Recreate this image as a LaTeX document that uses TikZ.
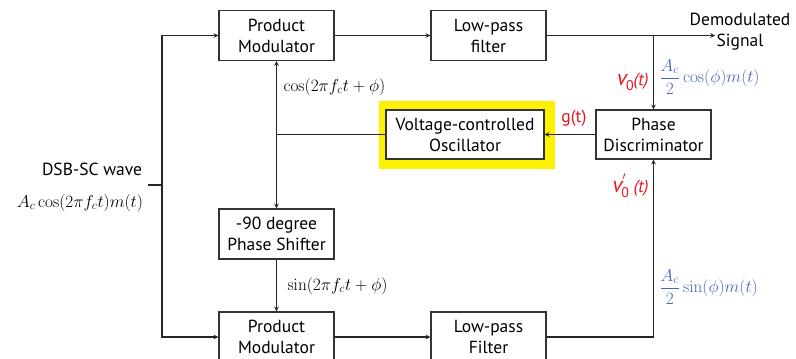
\documentclass[tikz,border=0pt]{standalone}
\usepackage{amsmath}
\usepackage[no-math]{fontspec}
\setmainfont{PT Sans}
\usetikzlibrary{arrows}
\definecolor{vcoyellow}{HTML}{FFF200}
\definecolor{sigred}{HTML}{E8141E}
\definecolor{sigblue}{HTML}{4A64BE}
\newcommand{\bigv}{{\fontsize{22}{22}\selectfont\itshape v}}
\newcommand{\zerosub}{\raisebox{-0.6ex}{\fontsize{14}{14}\selectfont 0}}
\tikzstyle{block} = [draw=black!80, line width=1.3pt, minimum width=115pt, minimum height=50pt, align=center]
\tikzstyle{wire} = [line width=1.1pt, black!85]
\tikzstyle{arrow} = [line width=1.1pt, black!85, ->, >=stealth]

\begin{document}
\begin{tikzpicture}[x=1pt,y=-1pt,every node/.style={font=\fontsize{17.5}{21}\selectfont}]
    \clip (0,0) rectangle (796,359);
    \fill[vcoyellow] (379,101) rectangle (555,169);
    % blocks
    \node[block] (pm1) at (276.5,35.5) {Product\\Modulator};
    \node[block] (lpf1) at (488.5,35.5) {Low-pass\\filter};
    \node[block, minimum width=158pt, minimum height=49pt, fill=white] (vco) at (465,134.5)
        {Voltage-controlled\\Oscillator};
    \node[block, minimum height=49pt] (pd) at (653.5,134.5) {Phase\\Discriminator};
    \node[block] (ps) at (276.5,234) {-90 degree\\Phase Shifter};
    \node[block] (pm2) at (276.5,337) {Product\\Modulator};
    \node[block] (lpf2) at (488.5,337) {Low-pass\\Filter};
    % input split
    \coordinate (in) at (148,185);
    \coordinate (split) at (162,185);
    \draw[wire] (in) -- (split);
    \draw[arrow] (split) |- (pm1.west);
    \draw[arrow] (split) |- (pm2.west);
    \draw[arrow] (pm1) -- (lpf1);
    \draw[arrow] (pm2) -- (lpf2);
    % output and phase loop
    \coordinate (tap) at (pd.north |- lpf1.east);
    \coordinate (out) at (715,35.5);
    \draw[arrow] (lpf1) -- (out);
    \draw[arrow] (tap) -- (pd.north);
    \draw[arrow] (lpf2.east) -| (pd.south);
    \draw[arrow] (pd) -- (vco);
    \coordinate (loop) at (pm1.south |- vco.west);
    \draw[wire] (vco.west) -- (loop);
    \draw[arrow] (loop) -- (pm1.south);
    \draw[arrow] (loop) -- (ps.north);
    \draw[arrow] (ps) -- (pm2);
    % labels
    \node (dsb) at (92,169) {DSB-SC wave};
    \node (dsbeq) at (80,203) {$A_c\cos(2\pi f_c t)m(t)$};
    \node[anchor=west] (coslbl) at (280,87) {$\cos(2\pi f_c t+\phi)$};
    \node[anchor=west] (sinlbl) at (284,286) {$\sin(2\pi f_c t+\phi)$};
    \node[sigred] (glbl) at (574,118) {g(t)};
    \node[sigred, anchor=east] (vlbl) at (652,82) {\bigv\kern-1pt\zerosub\textit{(t)}};
    \node[sigred, anchor=east] (vplbl) at (652,186)
        {\bigv\rlap{\raisebox{0.6ex}{$'$}}\kern-1pt\zerosub\ \textit{(t)}};
    \node[sigblue, anchor=west] (cosout) at (656,77) {$\dfrac{A_c}{2}\cos(\phi)m(t)$};
    \node[sigblue, anchor=west] (sinout) at (656,287) {$\dfrac{A_c}{2}\sin(\phi)m(t)$};
    \node[align=center] (demod) at (740,32) {Demodulated\\Signal};
\end{tikzpicture}
\end{document}
